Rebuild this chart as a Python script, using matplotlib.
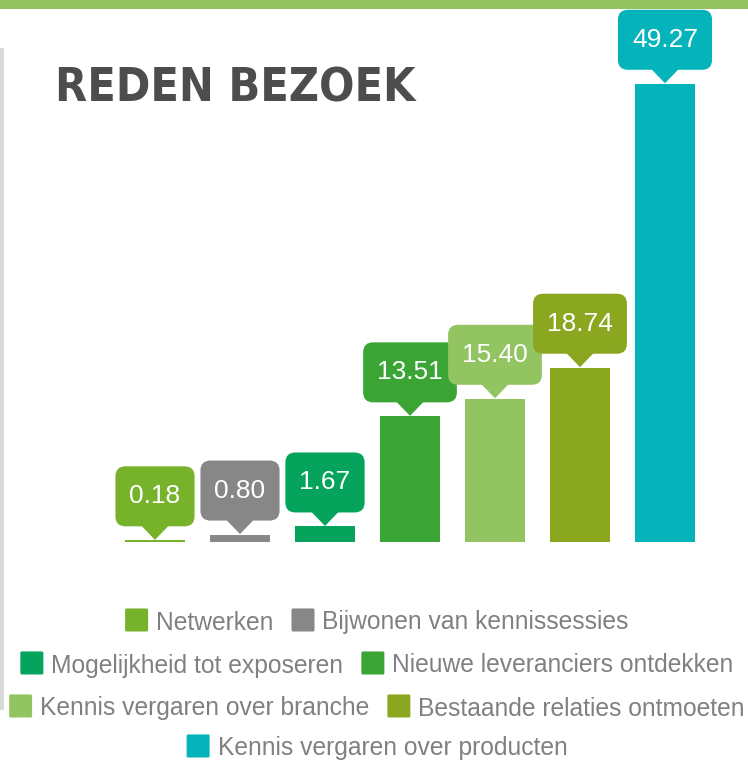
import matplotlib
matplotlib.use('Agg')
import matplotlib.pyplot as plt
from matplotlib import font_manager as fm
from matplotlib.patches import Rectangle, FancyBboxPatch, Polygon
from matplotlib.transforms import ScaledTranslation

categories = ['Netwerken', 'Bijwonen van kennissessies', 'Mogelijkheid tot exposeren',
              'Nieuwe leveranciers ontdekken', 'Kennis vergaren over branche',
              'Bestaande relaties ontmoeten', 'Kennis vergaren over producten']
values = [0.18, 0.80, 1.67, 13.51, 15.40, 18.74, 49.27]
colors = ['#77b22b', '#878787', '#05a35b', '#3aa535', '#92c462', '#8aa71f', '#05b3bb']
legend_rows = [[0, 1], [2, 3], [4, 5], [6]]

W, H = 748, 763
base = 542          # pixel row of the bar baseline
px_per_unit = 9.3
step = 85           # pixels between bar centres
x0 = 155            # pixel centre of first bar

STRETCH = {'ultra-condensed': 100, 'extra-condensed': 200, 'condensed': 300,
           'semi-condensed': 400, 'normal': 500}


def narrow_bold_font():
    # most condensed bold sans face available, else DejaVu Sans Bold
    best, best_st = None, 500
    for f in fm.fontManager.ttflist:
        st = f.stretch if isinstance(f.stretch, int) else STRETCH.get(f.stretch, 500)
        if 'Narrow' in f.name or 'Condensed' in f.name:
            st = min(st, 350)
        w = f.weight if isinstance(f.weight, int) else (700 if 'bold' in str(f.weight) else 400)
        if 600 <= w <= 800 and 'Mono' not in f.name and 'Serif' not in f.name and 'CJK' not in f.name:
            if st < best_st:
                best, best_st = f, st
    if best is not None:
        return fm.FontProperties(fname=best.fname)
    return fm.FontProperties(family='DejaVu Sans', weight='bold')


fig = plt.figure(figsize=(W / 100, H / 100), dpi=100)
fig.patch.set_facecolor('white')

# decoration: green strip at the top, grey rule on the left
fig.add_artist(Rectangle((0, 1 - 9 / H), 1, 9 / H, transform=fig.transFigure,
                         color='#92c35f', lw=0))
fig.add_artist(Rectangle((0, (H - 710) / H), 4 / W, 662 / H, transform=fig.transFigure,
                         color='#d9d9d9', lw=0))

fig.canvas.draw()
r = fig.canvas.get_renderer()

tp = narrow_bold_font()
tp.set_size(40)
title = fig.text(55 / W, (H - 102) / H, 'REDEN BEZOEK', fontproperties=tp,
                 color='#4d4d4d', va='baseline', ha='left')
tw = title.get_window_extent(r).width
tp.set_size(min(40 * 360 / tw, 56))
title.set_fontproperties(tp)

ax = fig.add_axes([0, (H - base) / H, 1, base / H])
ax.set_xlim(-x0 / step, (W - x0) / step)
ax.set_ylim(0, base / px_per_unit)
ax.axis('off')

xs = list(range(len(values)))
ax.bar(xs, values, width=60 / step, color=colors, zorder=2)

# speech-bubble labels above each bar (sizes in pixels, anchored on bar top)
for i, v in enumerate(values):
    anchor = fig.dpi_scale_trans + ScaledTranslation(i, v, ax.transData)
    t = ax.text(0, 0.44, f'{v:.2f}', ha='center', va='center', fontsize=19,
                color='white', family='Liberation Sans', zorder=6, transform=anchor)
    bw = t.get_window_extent(r).width + 28
    box = FancyBboxPatch((-bw / 200, 0.14), bw / 100, 0.60,
                         boxstyle='round,pad=0,rounding_size=0.10',
                         fc=colors[i], ec='none', zorder=5, transform=anchor)
    ax.add_artist(box)
    tri = Polygon([(-0.14, 0.15), (0.14, 0.15), (0, 0.005)], closed=True,
                  fc=colors[i], ec='none', zorder=4, transform=anchor)
    ax.add_artist(tri)

# legend, each row centred
row_y = [620, 663, 706, 746]
fs = 17.7
sq = 23
for row, yc in zip(legend_rows, row_y):
    texts = []
    for k in row:
        t = fig.text(0, 0, categories[k], fontsize=fs, color='#808080',
                     family='Liberation Sans', va='center_baseline', ha='left')
        texts.append(t)
    widths = [t.get_window_extent(r).width for t in texts]
    total = sum(sq + 8 + w for w in widths) + 18 * (len(row) - 1)
    x = 377 - total / 2
    for k, t, w in zip(row, texts, widths):
        fig.add_artist(FancyBboxPatch((x / W + 0.002, (H - yc - sq / 2) / H + 0.002),
                                      (sq - 3) / W, (sq - 3) / H,
                                      boxstyle='round,pad=0.002', transform=fig.transFigure,
                                      fc=colors[k], ec='none'))
        t.set_position(((x + sq + 8) / W, (H - yc) / H))
        x += sq + 8 + w + 18

fig.savefig('out.png', dpi=100, facecolor='white')
